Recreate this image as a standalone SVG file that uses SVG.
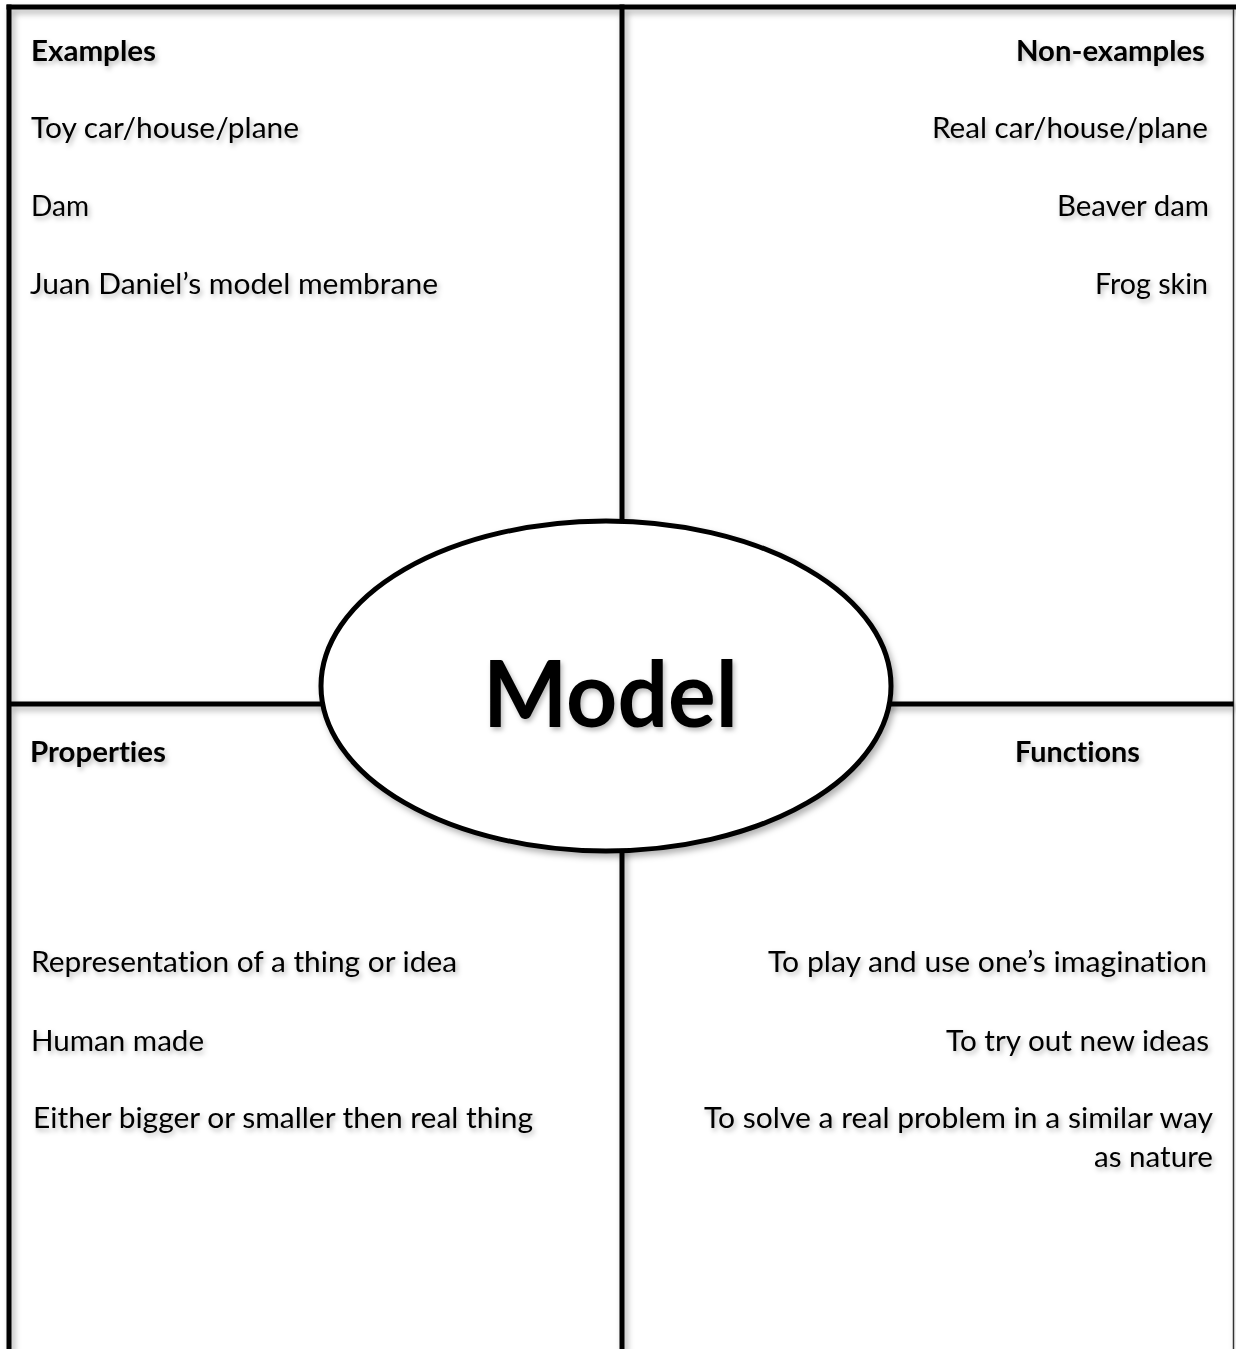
<svg xmlns="http://www.w3.org/2000/svg" width="1236" height="1349" viewBox="0 0 1236 1349">
  <defs>
    <filter id="sh" x="-5%" y="-5%" width="110%" height="110%">
      <feDropShadow dx="2" dy="3" stdDeviation="2.5" flood-color="#000" flood-opacity="0.28"/>
    </filter>
    <filter id="lsh" x="-2%" y="-2%" width="104%" height="104%" filterUnits="userSpaceOnUse">
      <feDropShadow dx="3" dy="4" stdDeviation="3" flood-color="#000" flood-opacity="0.3"/>
    </filter>
    <style>
      .t { font-family: Lato, "Open Sans", "Liberation Sans", sans-serif; font-size: 29px; fill: #000; font-variant-ligatures: none; font-feature-settings: "liga" 0, "clig" 0; }
      .b { font-weight: bold; }
      .big { font-size: 91px; }
      .ln { stroke: #000; stroke-width: 5; fill: none; stroke-linecap: square; }
      .tx { filter: url(#sh); }
    </style>
  </defs>
  <rect width="1236" height="1349" fill="#fff"/>

  <g id="connectors" filter="url(#lsh)">
    <line class="ln" x1="9" y1="7" x2="1236" y2="7"/>
    <line class="ln" x1="9" y1="7" x2="9" y2="1352"/>
    <line x1="1233.5" y1="9" x2="1233.5" y2="1349" stroke="#333" stroke-width="1.5"/>
    <line class="ln" x1="622" y1="7" x2="622" y2="1352"/>
    <line class="ln" x1="11" y1="704" x2="1231" y2="704"/>
  </g>

  <g id="center-node">
    <ellipse cx="606" cy="686" rx="285" ry="165" fill="#fff" stroke="#000" stroke-width="5" filter="url(#lsh)"/>
    <text class="t b big tx" x="483" y="727" textLength="255" lengthAdjust="spacingAndGlyphs">Model</text>
  </g>

  <g id="examples" class="tx">
    <text class="t b" x="31" y="61" textLength="125" lengthAdjust="spacingAndGlyphs">Examples</text>
    <text class="t" x="31" y="138" textLength="268" lengthAdjust="spacingAndGlyphs">Toy car/house/plane</text>
    <text class="t" x="31" y="216" textLength="58" lengthAdjust="spacingAndGlyphs">Dam</text>
    <text class="t" x="30" y="294" textLength="408" lengthAdjust="spacingAndGlyphs">Juan Daniel’s model membrane</text>
  </g>

  <g id="non-examples" class="tx">
    <text class="t b" x="1016" y="61" textLength="189" lengthAdjust="spacingAndGlyphs">Non-examples</text>
    <text class="t" x="932" y="138" textLength="276" lengthAdjust="spacingAndGlyphs">Real car/house/plane</text>
    <text class="t" x="1057" y="216" textLength="152" lengthAdjust="spacingAndGlyphs">Beaver dam</text>
    <text class="t" x="1095" y="294" textLength="113" lengthAdjust="spacingAndGlyphs">Frog skin</text>
  </g>

  <g id="properties" class="tx">
    <text class="t b" x="30" y="762" textLength="136" lengthAdjust="spacingAndGlyphs">Properties</text>
    <text class="t" x="31" y="972" textLength="426" lengthAdjust="spacingAndGlyphs">Representation of a thing or idea</text>
    <text class="t" x="31" y="1051" textLength="173" lengthAdjust="spacingAndGlyphs">Human made</text>
    <text class="t" x="33" y="1128" textLength="500" lengthAdjust="spacingAndGlyphs">Either bigger or smaller then real thing</text>
  </g>

  <g id="functions" class="tx">
    <text class="t b" x="1015" y="762" textLength="125" lengthAdjust="spacingAndGlyphs">Functions</text>
    <text class="t" x="768" y="972" textLength="439" lengthAdjust="spacingAndGlyphs">To play and use one’s imagination</text>
    <text class="t" x="946" y="1051" textLength="263" lengthAdjust="spacingAndGlyphs">To try out new ideas</text>
    <text class="t" x="704" y="1128" textLength="509" lengthAdjust="spacingAndGlyphs">To solve a real problem in a similar way</text>
    <text class="t" x="1094" y="1167" textLength="119" lengthAdjust="spacingAndGlyphs">as nature</text>
  </g>
</svg>
